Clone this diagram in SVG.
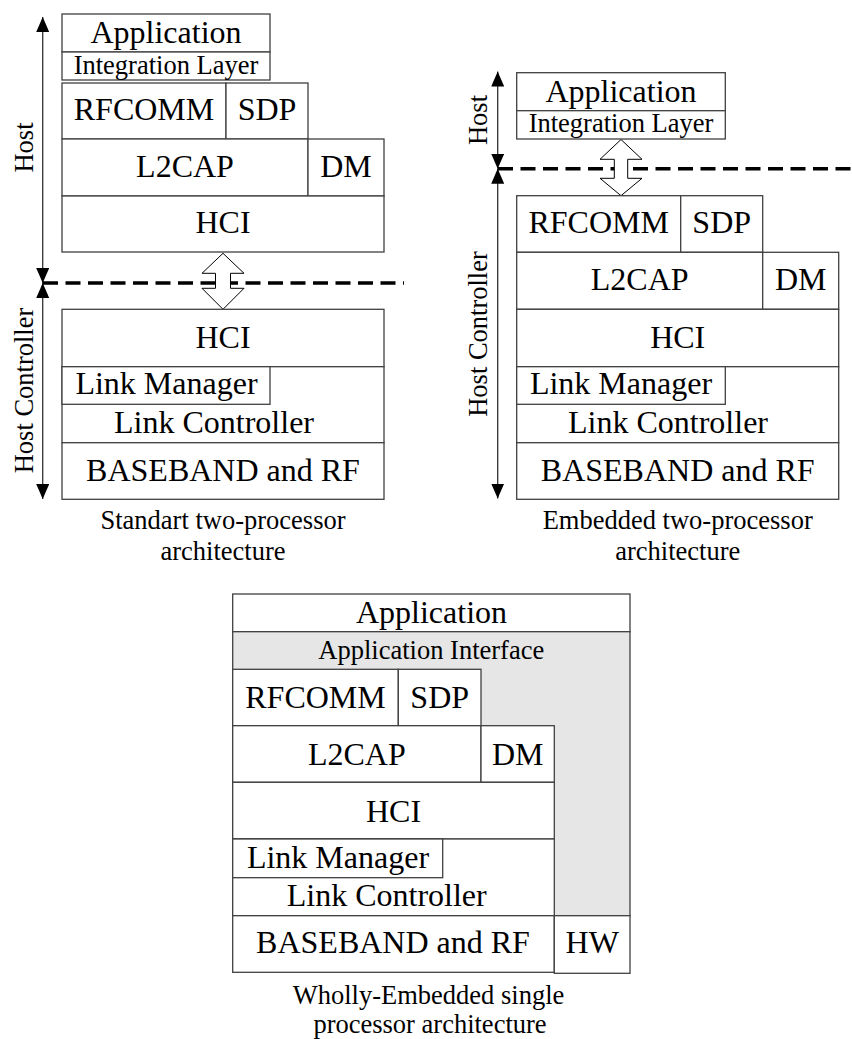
<svg xmlns="http://www.w3.org/2000/svg" width="852" height="1039" viewBox="0 0 852 1039">
  <defs>
    <style>
      .box { fill: #ffffff; stroke: #404040; stroke-width: 1.3; }
      .shade { fill: #e6e6e6; stroke: #404040; stroke-width: 1.3; }
      .t32 { font-family: "Liberation Serif", "Times New Roman", serif; font-size: 32px; fill: #000; text-anchor: middle; }
      .t26 { font-family: "Liberation Serif", "Times New Roman", serif; font-size: 26.5px; fill: #000; text-anchor: middle; }
      .axis { stroke: #333; stroke-width: 1.3; fill: none; }
      .split { stroke: #000; stroke-width: 3.5; stroke-dasharray: 15 7.5; fill: none; }
      .link { fill: #ffffff; stroke: #000; stroke-width: 1; }
    </style>
    <marker id="tri" viewBox="0 0 15 13" refX="15" refY="6.5" markerWidth="15" markerHeight="13" markerUnits="userSpaceOnUse" orient="auto-start-reverse">
      <path d="M0,0 L15,6.5 L0,13 Z" fill="#000"/>
    </marker>
  </defs>
  <rect width="852" height="1039" fill="#ffffff"/>

  <!-- Connectors: domain axes, host/controller boundaries, HCI transport -->
  <g id="connectors">
    <line class="axis" x1="42.7" y1="283" x2="42.7" y2="17" marker-start="url(#tri)" marker-end="url(#tri)"/>
    <line class="axis" x1="42.7" y1="283" x2="42.7" y2="499" marker-start="url(#tri)" marker-end="url(#tri)"/>
    <line class="axis" x1="497.7" y1="168.7" x2="497.7" y2="71.5" marker-start="url(#tri)" marker-end="url(#tri)"/>
    <line class="axis" x1="497.7" y1="168.7" x2="497.7" y2="498.5" marker-start="url(#tri)" marker-end="url(#tri)"/>
    <line class="split" x1="43" y1="283" x2="404" y2="283"/>
    <line class="split" x1="498" y1="168.7" x2="852" y2="168.7"/>
    <path class="link" d="M223,253.3 L244,273.3 L230.5,273.3 L230.5,288.3 L244,288.3 L223,309.3 L202,288.3 L215.5,288.3 L215.5,273.3 L202,273.3 Z"/>
    <path class="link" d="M621,139.5 L642,159.3 L627.7,159.3 L627.7,178.3 L642,178.3 L621,195.7 L600,178.3 L614.3,178.3 L614.3,159.3 L600,159.3 Z"/>
  </g>

  <!-- Axis labels -->
  <g id="axis-labels">
    <text class="t26" transform="translate(33.3,147.5) rotate(-90)">Host</text>
    <text class="t26" transform="translate(33.3,390.5) rotate(-90)">Host Controller</text>
    <text class="t26" transform="translate(486.7,120) rotate(-90)">Host</text>
    <text class="t26" transform="translate(486.7,334) rotate(-90)">Host Controller</text>
  </g>

  <!-- Standard two-processor stack -->
  <g id="std-application">
    <rect class="box" x="62" y="14" width="208" height="38"/>
    <text class="t32" x="166" y="42.7">Application</text>
  </g>
  <g id="std-integration">
    <rect class="box" x="62" y="52" width="208" height="28"/>
    <text class="t26" x="166" y="74">Integration Layer</text>
  </g>
  <g id="std-rfcomm">
    <rect class="box" x="62" y="83" width="164" height="56"/>
    <text class="t32" x="144" y="120">RFCOMM</text>
  </g>
  <g id="std-sdp">
    <rect class="box" x="226" y="83" width="82" height="56"/>
    <text class="t32" x="267" y="120">SDP</text>
  </g>
  <g id="std-l2cap">
    <rect class="box" x="62" y="139" width="246" height="57"/>
    <text class="t32" x="185" y="176.7">L2CAP</text>
  </g>
  <g id="std-dm">
    <rect class="box" x="308" y="139" width="76" height="57"/>
    <text class="t32" x="346" y="176.7">DM</text>
  </g>
  <g id="std-hci-host">
    <rect class="box" x="62" y="196" width="322" height="56"/>
    <text class="t32" x="223" y="233.3">HCI</text>
  </g>
  <g id="std-hci-ctrl">
    <rect class="box" x="62" y="309.3" width="322" height="57.4"/>
    <text class="t32" x="223" y="348.3">HCI</text>
  </g>
  <g id="std-link-controller">
    <rect class="box" x="62" y="366.7" width="322" height="76"/>
    <text class="t32" x="214" y="432.7">Link Controller</text>
  </g>
  <g id="std-link-manager">
    <rect class="box" x="62" y="366.7" width="208" height="37.6"/>
    <text class="t32" x="166.5" y="394.3">Link Manager</text>
  </g>
  <g id="std-baseband">
    <rect class="box" x="62" y="442.7" width="322" height="56.6"/>
    <text class="t32" x="223" y="481">BASEBAND and RF</text>
  </g>
  <g id="std-caption">
    <text class="t26" x="223" y="529.3">Standart two-processor</text>
    <text class="t26" x="223" y="560">architecture</text>
  </g>

  <!-- Embedded two-processor stack -->
  <g id="emb-application">
    <rect class="box" x="516.7" y="72.7" width="208.6" height="38"/>
    <text class="t32" x="621" y="101.7">Application</text>
  </g>
  <g id="emb-integration">
    <rect class="box" x="516.7" y="110.7" width="208.6" height="28.3"/>
    <text class="t26" x="621" y="131.7">Integration Layer</text>
  </g>
  <g id="emb-rfcomm">
    <rect class="box" x="516.7" y="195.7" width="164" height="56.6"/>
    <text class="t32" x="598.7" y="233.3">RFCOMM</text>
  </g>
  <g id="emb-sdp">
    <rect class="box" x="680.7" y="195.7" width="82" height="56.6"/>
    <text class="t32" x="721.7" y="233.3">SDP</text>
  </g>
  <g id="emb-l2cap">
    <rect class="box" x="516.7" y="252.3" width="246" height="57"/>
    <text class="t32" x="639.7" y="290">L2CAP</text>
  </g>
  <g id="emb-dm">
    <rect class="box" x="762.7" y="252.3" width="76" height="57"/>
    <text class="t32" x="800.7" y="290">DM</text>
  </g>
  <g id="emb-hci">
    <rect class="box" x="516.7" y="309.3" width="322" height="57.4"/>
    <text class="t32" x="677.7" y="348.3">HCI</text>
  </g>
  <g id="emb-link-controller">
    <rect class="box" x="516.7" y="366.7" width="322" height="76"/>
    <text class="t32" x="668" y="432.7">Link Controller</text>
  </g>
  <g id="emb-link-manager">
    <rect class="box" x="516.7" y="366.7" width="208.6" height="37.6"/>
    <text class="t32" x="621" y="394.3">Link Manager</text>
  </g>
  <g id="emb-baseband">
    <rect class="box" x="516.7" y="442.7" width="322" height="56.6"/>
    <text class="t32" x="677.7" y="481">BASEBAND and RF</text>
  </g>
  <g id="emb-caption">
    <text class="t26" x="677.7" y="529.3">Embedded two-processor</text>
    <text class="t26" x="677.7" y="560">architecture</text>
  </g>

  <!-- Wholly-embedded single-processor stack -->
  <g id="single-application">
    <rect class="box" x="232.7" y="594" width="397.3" height="37.7"/>
    <text class="t32" x="431.5" y="623.3">Application</text>
  </g>
  <g id="single-app-interface">
    <rect class="shade" x="232.7" y="631.7" width="397.3" height="284"/>
    <text class="t26" x="431.3" y="659">Application Interface</text>
  </g>
  <g id="single-rfcomm">
    <rect class="box" x="232.7" y="669.3" width="165.6" height="56.4"/>
    <text class="t32" x="315.5" y="708.3">RFCOMM</text>
  </g>
  <g id="single-sdp">
    <rect class="box" x="398.3" y="669.3" width="82.7" height="56.4"/>
    <text class="t32" x="439.7" y="708.3">SDP</text>
  </g>
  <g id="single-l2cap">
    <rect class="box" x="232.7" y="725.7" width="248.3" height="56.6"/>
    <text class="t32" x="356.8" y="765">L2CAP</text>
  </g>
  <g id="single-dm">
    <rect class="box" x="481" y="725.7" width="73.3" height="56.6"/>
    <text class="t32" x="517.7" y="765">DM</text>
  </g>
  <g id="single-hci">
    <rect class="box" x="232.7" y="782.3" width="321.6" height="56.7"/>
    <text class="t32" x="393.5" y="821.7">HCI</text>
  </g>
  <g id="single-link-controller">
    <rect class="box" x="232.7" y="839" width="321.6" height="76.7"/>
    <text class="t32" x="386.7" y="906">Link Controller</text>
  </g>
  <g id="single-link-manager">
    <rect class="box" x="232.7" y="839" width="210" height="38.7"/>
    <text class="t32" x="338" y="868.3">Link Manager</text>
  </g>
  <g id="single-baseband">
    <rect class="box" x="232.7" y="915.7" width="321.6" height="56.6"/>
    <text class="t32" x="393" y="953.3">BASEBAND and RF</text>
  </g>
  <g id="single-hw">
    <rect class="box" x="554.3" y="915.7" width="75.7" height="57.6"/>
    <text class="t32" x="592.2" y="953.3">HW</text>
  </g>
  <g id="single-caption">
    <text class="t26" x="428.5" y="1004">Wholly-Embedded single</text>
    <text class="t26" x="430" y="1032.5">processor architecture</text>
  </g>
</svg>
